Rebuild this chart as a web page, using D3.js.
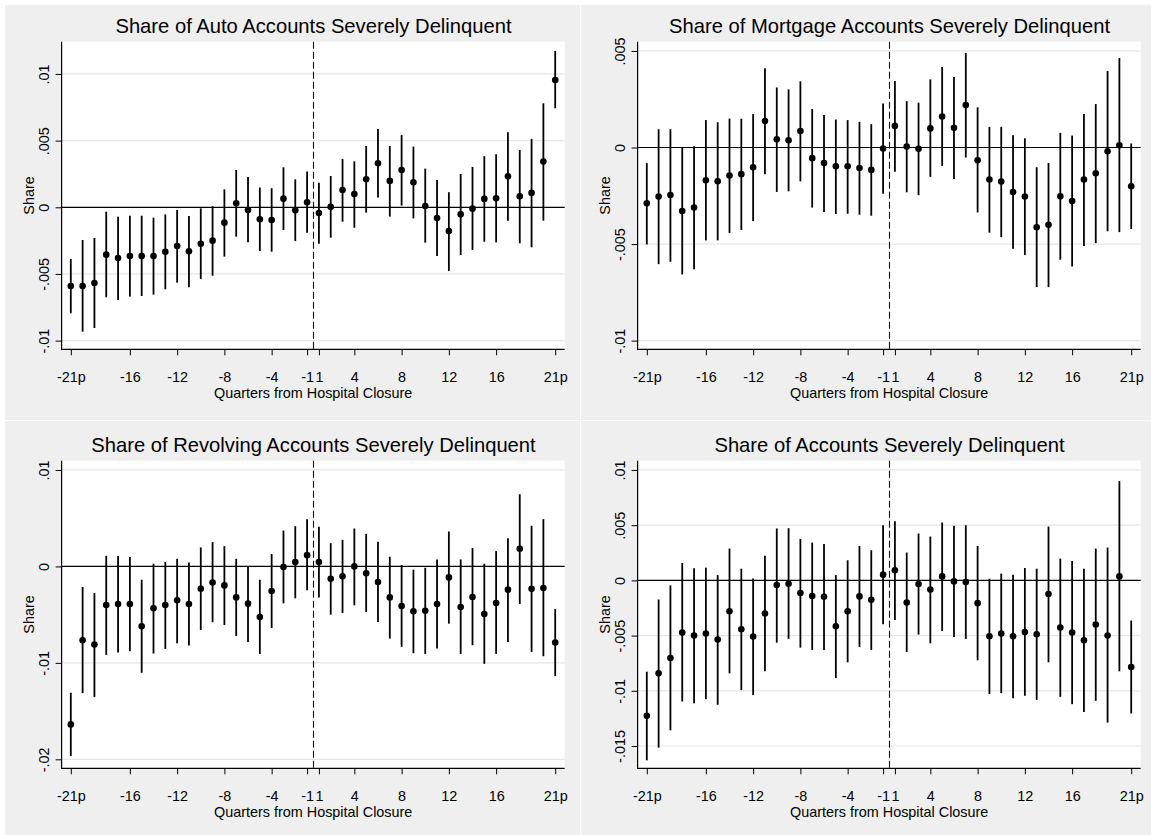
<!DOCTYPE html>
<html><head><meta charset="utf-8">
<script src="https://cdn.jsdelivr.net/npm/d3@7/dist/d3.min.js"></script>
<style>html,body{margin:0;padding:0;background:#fff;}svg{display:block;}</style>
</head><body>
<svg id="chart" width="1151" height="835"></svg>
<script>
// ---------- DATA ----------
const quarters = [-21,-20,-19,-18,-17,-16,-15,-14,-13,-12,-11,-10,-9,-8,-7,-6,-5,-4,-3,-2,-1,1,2,3,4,5,6,7,8,9,10,11,12,13,14,15,16,17,18,19,20,21];
const xTickValues = [-21,-16,-12,-8,-4,-1,1,4,8,12,16,21];
const xTickLabels = ["-21p","-16","-12","-8","-4","-1","1","4","8","12","16","21p"];
const xAxisTitle = "Quarters from Hospital Closure";
const yAxisTitle = "Share";

const titles = [
  "Share of Auto Accounts Severely Delinquent",
  "Share of Mortgage Accounts Severely Delinquent",
  "Share of Revolving Accounts Severely Delinquent",
  "Share of Accounts Severely Delinquent"
];

const autoEst = [-0.0059,-0.0059,-0.00568,-0.00355,-0.0038,-0.00365,-0.00365,-0.00365,-0.00333,-0.0029,-0.0033,-0.00273,-0.0025,-0.00115,0.0003,-0.0002,-0.0009,-0.00095,0.00065,-0.00023,0.00038,-0.00043,0.00003,0.0013,0.001,0.0021,0.0033,0.00198,0.0028,0.00188,0.0001,-0.0008,-0.00178,-0.00053,-0.0001,0.00063,0.00068,0.00233,0.00083,0.00108,0.00343,0.00955];
const autoHi = [-0.00388,-0.00245,-0.0023,-0.00033,-0.0007,-0.00063,-0.00063,-0.00078,-0.00053,-0.0002,-0.00065,-0.00008,0.00008,0.00135,0.0028,0.00228,0.00148,0.00143,0.003,0.0021,0.00268,0.00185,0.00235,0.00363,0.00345,0.0046,0.00588,0.0046,0.00543,0.00455,0.0029,0.00205,0.00113,0.0025,0.00303,0.00383,0.00398,0.00563,0.0043,0.00513,0.0078,0.01173];
const autoLo = [-0.00795,-0.00933,-0.00905,-0.00675,-0.00695,-0.0067,-0.00665,-0.00655,-0.00615,-0.00565,-0.006,-0.00538,-0.00513,-0.0037,-0.0022,-0.00263,-0.00328,-0.00333,-0.0017,-0.00253,-0.0019,-0.00273,-0.00228,-0.00108,-0.00153,-0.0004,0.00073,-0.0007,0.00013,-0.00083,-0.00265,-0.00365,-0.00478,-0.00358,-0.0032,-0.00258,-0.00263,-0.001,-0.0027,-0.003,-0.001,0.00743];

const mortEst = [-0.00289,-0.00254,-0.00246,-0.00329,-0.00311,-0.0017,-0.00175,-0.00145,-0.00138,-0.00102,0.00137,0.00043,0.00038,0.00085,-0.00055,-0.0008,-0.00097,-0.00097,-0.00106,-0.00116,-0.00005,0.00112,0.00005,-0.00007,0.00099,0.00161,0.00102,0.0022,-0.00066,-0.00166,-0.00176,-0.0023,-0.00254,-0.00413,-0.004,-0.00253,-0.00277,-0.00166,-0.00133,-0.00019,0.00012,-0.00201];
const mortHi = [-0.00081,0.00095,0.00095,0.0,0.00007,0.00142,0.00131,0.0015,0.00149,0.00173,0.0041,0.00311,0.00301,0.00343,0.00199,0.00168,0.00145,0.00142,0.00133,0.00121,0.00228,0.00344,0.0024,0.00232,0.00353,0.00417,0.00365,0.0049,0.00208,0.00107,0.00107,0.00064,0.00048,-0.00102,-0.0008,0.00076,0.00062,0.00173,0.00225,0.00396,0.00464,0.00021];
const mortLo = [-0.00502,-0.00604,-0.00592,-0.00657,-0.0063,-0.00481,-0.00481,-0.00443,-0.00427,-0.00381,-0.00138,-0.0023,-0.00227,-0.00175,-0.00311,-0.00334,-0.00344,-0.00343,-0.00348,-0.00353,-0.00239,-0.00125,-0.00232,-0.00247,-0.00152,-0.00095,-0.00163,-0.00052,-0.00336,-0.00441,-0.00464,-0.00524,-0.00557,-0.00723,-0.00723,-0.00581,-0.00616,-0.0051,-0.00495,-0.00434,-0.00438,-0.00422];

const revEst = [-0.01638,-0.00766,-0.0081,-0.004,-0.0039,-0.0039,-0.00621,-0.00434,-0.004,-0.00352,-0.0039,-0.00231,-0.00166,-0.00197,-0.00321,-0.00386,-0.00524,-0.00255,-0.00007,0.00045,0.00117,0.00045,-0.00128,-0.00103,0.0,-0.00072,-0.00162,-0.00321,-0.0041,-0.00466,-0.00459,-0.0039,-0.00114,-0.00421,-0.00317,-0.00493,-0.00379,-0.00241,0.00183,-0.00231,-0.00224,-0.0079];
const revHi = [-0.0131,-0.00214,-0.00276,0.0011,0.00107,0.00097,-0.00138,0.00028,0.00048,0.00079,0.00041,0.00197,0.00252,0.0021,0.00079,0.0,-0.00138,0.00128,0.00372,0.00417,0.0049,0.0041,0.00241,0.00276,0.00393,0.00338,0.00255,0.001,0.00014,-0.00034,-0.00014,0.00072,0.00362,0.00072,0.0019,0.00028,0.00159,0.00293,0.00748,0.00421,0.0049,-0.00441];
const revLo = [-0.01966,-0.01314,-0.01355,-0.00917,-0.00893,-0.00879,-0.01103,-0.00903,-0.00855,-0.00797,-0.00821,-0.00659,-0.00579,-0.00607,-0.00721,-0.00783,-0.00907,-0.00638,-0.00383,-0.00331,-0.00248,-0.00321,-0.005,-0.00483,-0.00403,-0.00472,-0.00576,-0.00748,-0.00834,-0.009,-0.00907,-0.00852,-0.00593,-0.00907,-0.00817,-0.0101,-0.00907,-0.00783,-0.0039,-0.00886,-0.00931,-0.01138];

const allEst = [-0.01227,-0.00842,-0.00703,-0.00473,-0.005,-0.00482,-0.00536,-0.00279,-0.00442,-0.00509,-0.003,-0.00042,-0.0003,-0.00115,-0.00142,-0.00148,-0.00415,-0.00279,-0.00145,-0.00176,0.00052,0.00091,-0.002,-0.00033,-0.00082,0.00036,-0.00009,-0.00015,-0.00206,-0.00506,-0.00482,-0.00506,-0.00467,-0.00488,-0.00124,-0.00427,-0.00473,-0.00542,-0.004,-0.005,0.00036,-0.00785];
const allHi = [-0.00827,-0.00173,-0.00045,0.00158,0.00109,0.00115,0.00048,0.00288,0.00106,0.00018,0.00224,0.0047,0.00473,0.00376,0.00342,0.0033,0.00048,0.00182,0.00312,0.00273,0.005,0.00536,0.00252,0.00424,0.00397,0.00524,0.00494,0.005,0.00312,0.00015,0.00061,0.00052,0.00112,0.00106,0.00488,0.00197,0.00176,0.00106,0.00288,0.00297,0.009,-0.00364];
const allLo = [-0.0163,-0.01515,-0.01358,-0.01097,-0.01112,-0.01076,-0.01127,-0.00842,-0.00994,-0.01039,-0.00824,-0.00564,-0.0053,-0.00609,-0.0063,-0.0063,-0.00885,-0.00742,-0.00603,-0.0063,-0.00397,-0.00358,-0.00648,-0.00491,-0.0057,-0.00458,-0.00512,-0.0053,-0.00724,-0.0103,-0.01021,-0.01067,-0.01045,-0.01082,-0.00742,-0.01055,-0.01121,-0.01191,-0.01091,-0.01288,-0.00824,-0.01206];

const autoYTicks = [-0.01,-0.005,0,0.005,0.01];
const autoYLabels = ["-.01","-.005","0",".005",".01"];
const mortYTicks = [-0.01,-0.005,0,0.005];
const mortYLabels = ["-.01","-.005","0",".005"];
const revYTicks = [-0.02,-0.01,0,0.01];
const revYLabels = ["-.02","-.01","0",".01"];
const allYTicks = [-0.015,-0.01,-0.005,0,0.005,0.01];
const allYLabels = ["-.015","-.01","-.005","0",".005",".01"];

// ---------- LAYOUT ----------
const FONT = "'Liberation Sans', Arial, Helvetica, sans-serif";
const L = {left: 61.6, right: 564.7, top: 41.7, bottom: 349.3, x0: 70.8, x1: 555.2};

const panels = [
  {title: titles[0], est: autoEst, lo: autoLo, hi: autoHi, ticks: autoYTicks, labels: autoYLabels, dom: [-0.01065, 0.01242], ox: 0, oy: 0, bg: [5, 5, 575, 415]},
  {title: titles[1], est: mortEst, lo: mortLo, hi: mortHi, ticks: mortYTicks, labels: mortYLabels, dom: [-0.01045, 0.00548], ox: 576, oy: 0, bg: [581, 5, 570, 415]},
  {title: titles[2], est: revEst, lo: revLo, hi: revHi, ticks: revYTicks, labels: revYLabels, dom: [-0.02093, 0.01096], ox: 0, oy: 419, bg: [5, 421, 575, 414]},
  {title: titles[3], est: allEst, lo: allLo, hi: allHi, ticks: allYTicks, labels: allYLabels, dom: [-0.01702, 0.01084], ox: 576, oy: 419, bg: [581, 421, 570, 414]}
];

const svg = d3.select("#chart");
svg.append("rect").attr("width", 1151).attr("height", 835).attr("fill", "#ffffff");

panels.forEach(p => {
  svg.append("rect").attr("x", p.bg[0]).attr("y", p.bg[1]).attr("width", p.bg[2]).attr("height", p.bg[3]).attr("fill", "#efefef");
  const g = svg.append("g").attr("transform", `translate(${p.ox},${p.oy})`);

  const x = d3.scalePoint().domain(quarters).range([L.x0, L.x1]);
  const y = d3.scaleLinear().domain(p.dom).range([L.bottom, L.top]);

  // plot region
  g.append("rect").attr("x", L.left).attr("y", L.top).attr("width", L.right - L.left).attr("height", L.bottom - L.top).attr("fill", "#ffffff");

  // gridlines
  g.selectAll(".grid").data(p.ticks.filter(t => t !== 0)).enter().append("line")
    .attr("x1", L.left).attr("x2", L.right)
    .attr("y1", d => y(d)).attr("y2", d => y(d))
    .attr("stroke", "#e6e6e6").attr("stroke-width", 1.2);

  // zero line
  g.append("line").attr("x1", L.left).attr("x2", L.right).attr("y1", y(0)).attr("y2", y(0))
    .attr("stroke", "#000").attr("stroke-width", 1.2);

  // dashed vertical line between -1 and 1
  const xd = Math.round((x(-1) + x(1)) / 2) + 0.5;
  g.append("line").attr("x1", xd).attr("x2", xd).attr("y1", L.top).attr("y2", L.bottom)
    .attr("stroke", "#111").attr("stroke-width", 1.1).attr("stroke-dasharray", "7,3");

  // error bars
  const rows = quarters.map((q, i) => ({q, est: p.est[i], lo: p.lo[i], hi: p.hi[i]}));
  g.selectAll(".ci").data(rows).enter().append("line")
    .attr("x1", d => x(d.q)).attr("x2", d => x(d.q))
    .attr("y1", d => y(d.lo)).attr("y2", d => y(d.hi))
    .attr("stroke", "#000").attr("stroke-width", 1.8);
  g.selectAll(".pt").data(rows).enter().append("circle")
    .attr("cx", d => x(d.q)).attr("cy", d => y(d.est)).attr("r", 3.3).attr("fill", "#000");

  // axes
  const xAxis = d3.axisBottom(x).tickValues(xTickValues)
    .tickFormat(v => xTickLabels[xTickValues.indexOf(v)]).tickSize(6).tickSizeOuter(0);
  const gx = g.append("g").attr("transform", `translate(0,${L.bottom})`).call(xAxis);
  gx.select(".domain").remove();
  gx.selectAll(".tick line").attr("stroke", "#000").attr("stroke-width", 1);
  gx.selectAll(".tick text").attr("y", 32.4).attr("dy", null)
    .attr("font-family", FONT).attr("font-size", "14.4px").attr("fill", "#000");

  const yAxis = d3.axisLeft(y).tickValues(p.ticks)
    .tickFormat(v => p.labels[p.ticks.indexOf(v)]).tickSize(6).tickSizeOuter(0);
  const gy = g.append("g").attr("transform", `translate(${L.left},0)`).call(yAxis);
  gy.select(".domain").remove();
  gy.selectAll(".tick line").attr("stroke", "#000").attr("stroke-width", 1);
  gy.selectAll(".tick text").attr("x", null).attr("dy", null)
    .attr("transform", "translate(-12.8,0) rotate(-90)").attr("text-anchor", "middle")
    .attr("font-family", FONT).attr("font-size", "14.4px").attr("fill", "#000");

  // axis lines
  g.append("line").attr("x1", L.left).attr("x2", L.left).attr("y1", L.top).attr("y2", L.bottom + 0.6)
    .attr("stroke", "#000").attr("stroke-width", 1.2);
  g.append("line").attr("x1", L.left).attr("x2", L.right).attr("y1", L.bottom).attr("y2", L.bottom)
    .attr("stroke", "#000").attr("stroke-width", 1.2);

  // titles
  g.append("text").attr("x", 313.5).attr("y", 33.3).attr("text-anchor", "middle")
    .attr("font-family", FONT).attr("font-size", "20.2px").attr("fill", "#000").text(p.title);
  g.append("text").attr("x", 313.2).attr("y", 398.3).attr("text-anchor", "middle")
    .attr("font-family", FONT).attr("font-size", "14.4px").attr("fill", "#000").text(xAxisTitle);
  g.append("text").attr("transform", `translate(33.7,${(L.top + L.bottom) / 2}) rotate(-90)`).attr("text-anchor", "middle")
    .attr("font-family", FONT).attr("font-size", "14.4px").attr("fill", "#000").text(yAxisTitle);
});
</script>
</body></html>
